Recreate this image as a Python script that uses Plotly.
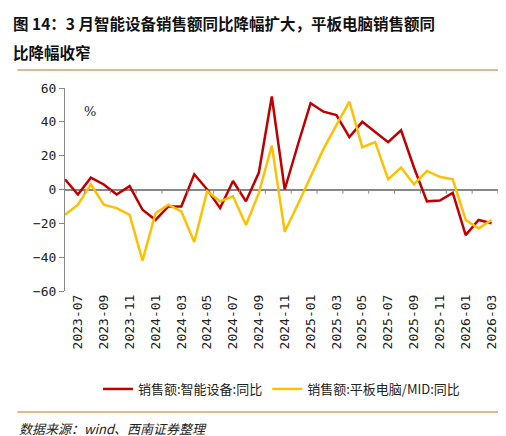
import plotly.graph_objects as go

months = ["2023-06", "2023-07", "2023-08", "2023-09", "2023-10", "2023-11", "2023-12",
          "2024-01", "2024-02", "2024-03", "2024-04", "2024-05", "2024-06", "2024-07",
          "2024-08", "2024-09", "2024-10", "2024-11", "2024-12", "2025-01", "2025-02",
          "2025-03", "2025-04", "2025-05", "2025-06", "2025-07", "2025-08", "2025-09",
          "2025-10", "2025-11", "2025-12", "2026-01", "2026-02", "2026-03"]
smart_dev = [6, -3, 7, 3, -3, 2, -12, -18, -10, -10, 9, 0, -11, 5, -7, 10, 55, 0,
             26, 51, 46, 44, 31, 40, 34, 28, 35, 13, -7, -6.5, -2, -27, -18, -20]
tablet = [-15, -9, 3, -9, -11, -15, -42, -14, -9, -13, -31, -1, -7, -4, -21, -2, 26, -25,
          -9, 8, 24, 38, 52, 25, 28, 6, 13, 3, 11, 7.5, 6, -18, -23, -18]
tick_months = months[1::2]

x = list(range(len(months)))
fig = go.Figure()
fig.add_trace(go.Scatter(x=x, y=smart_dev, mode="lines", name="销售额:智能设备:同比",
                         line=dict(color="#c00000", width=2.5)))
fig.add_trace(go.Scatter(x=x, y=tablet, mode="lines", name="销售额:平板电脑/MID:同比",
                         line=dict(color="#ffc000", width=2.5)))

PH = 203  # plot height in px
fig.update_layout(
    width=506, height=436, plot_bgcolor="white", paper_bgcolor="white",
    margin=dict(l=57, r=16, t=80, b=153),
    font=dict(family="DejaVu Sans Mono, Noto Sans CJK SC", size=13, color="#222"),
    xaxis=dict(range=[0, 33.5], tickvals=x[1::2], ticktext=tick_months, tickangle=-90,
               showgrid=False, showline=False, ticks="", zeroline=False),
    yaxis=dict(range=[-60, 60], dtick=20, showgrid=False, showline=True, linecolor="#888",
               ticks="outside", tickcolor="#888", ticklen=5, zeroline=True,
               zerolinecolor="#888", zerolinewidth=1.5),
    legend=dict(orientation="h", x=0.5, xanchor="center", y=(283 - 381) / PH, yanchor="middle",
                font=dict(size=13, family="Noto Sans CJK SC")),
    showlegend=True,
)
# ticks on the zero line
for v in x[1::2]:
    fig.add_shape(type="line", xref="x", yref="y", x0=v + 0.5, x1=v + 0.5, y0=0, y1=-2.5,
                  line=dict(color="#888", width=1))
fig.add_annotation(text="%", xref="paper", yref="paper", x=0.04, y=0.93, showarrow=False,
                   font=dict(size=13, family="DejaVu Serif"))
for txt, yy in [("图 14：3 月智能设备销售额同比降幅扩大，平板电脑销售额同", 15), ("比降幅收窄", 44)]:
    fig.add_annotation(text="<b>" + txt + "</b>", xref="paper", yref="paper",
                       x=-0.125, y=(283 - yy) / PH, yanchor="middle", xanchor="left",
                       showarrow=False, font=dict(size=15.5, family="Noto Sans CJK SC", color="#111"))
for yy in [62, 404]:
    fig.add_shape(type="line", xref="paper", yref="paper", x0=-0.11, x1=1.02,
                  y0=(283 - yy) / PH, y1=(283 - yy) / PH,
                  line=dict(color="#d4a464", width=1.5))
fig.add_annotation(text="<i>数据来源：wind、西南证券整理</i>", xref="paper", yref="paper",
                   x=-0.11, y=(283 - 421) / PH, xanchor="left", yanchor="middle", showarrow=False,
                   font=dict(size=13, family="Noto Sans CJK SC"))
fig.write_html("out.html")
